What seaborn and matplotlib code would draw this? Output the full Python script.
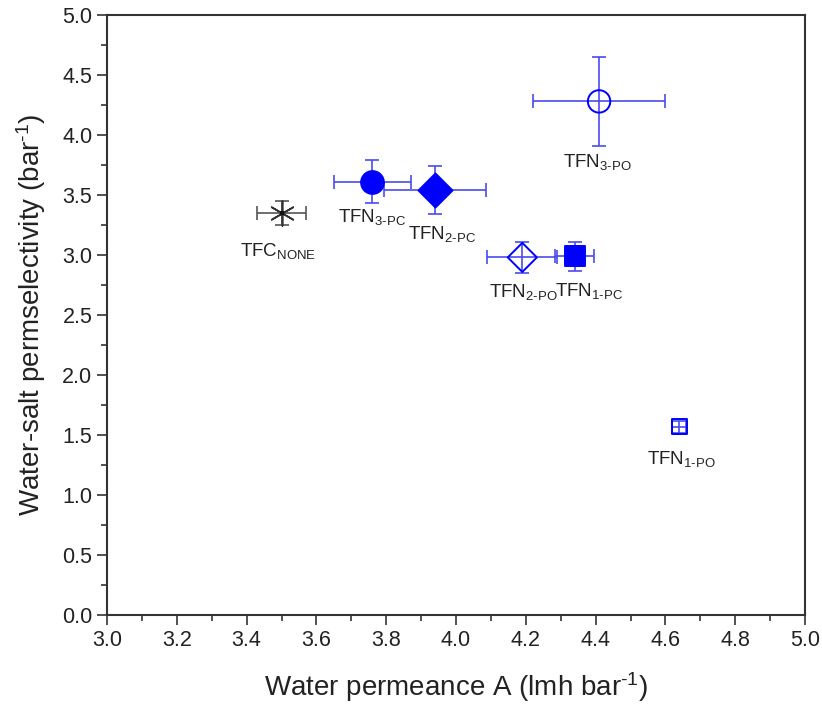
import matplotlib
matplotlib.use("Agg")
import matplotlib.pyplot as plt
import seaborn as sns
import pandas as pd

# ---- data ----
samples = ["TFC_NONE", "TFN3-PC", "TFN2-PC", "TFN2-PO", "TFN1-PC", "TFN3-PO", "TFN1-PO"]
labels = [r"TFC$_{\text{NONE}}$", r"TFN$_{\text{3-PC}}$", r"TFN$_{\text{2-PC}}$",
          r"TFN$_{\text{2-PO}}$", r"TFN$_{\text{1-PC}}$", r"TFN$_{\text{3-PO}}$",
          r"TFN$_{\text{1-PO}}$"]
permeance = [3.50, 3.76, 3.94, 4.19, 4.34, 4.41, 4.64]
permeance_err = [0.07, 0.11, 0.145, 0.10, 0.055, 0.19, 0.02]
selectivity = [3.35, 3.61, 3.54, 2.98, 2.99, 4.28, 1.57]
selectivity_err = [0.10, 0.18, 0.20, 0.13, 0.12, 0.37, 0.05]

df = pd.DataFrame({"sample": samples, "A": permeance, "A_err": permeance_err,
                   "S": selectivity, "S_err": selectivity_err, "label": labels})

# ---- styles ----
markers = ["$*$", "o", "D", "D", "s", "o", "s"]
sizes = [0, 270, 300, 220, 190, 260, 120]
filled = [True, True, True, False, True, False, False]
colors = ["#333333"] + ["#0000ff"] * 6
err_colors = ["#555555"] + ["#4a4aee"] * 6
label_offsets = [(-3, -43), (0, -40), (7, -49), (1, -40), (14, -40), (-2, -66), (2, -37)]

sns.set_theme(style="ticks")
plt.rcParams["font.family"] = ["Liberation Sans", "DejaVu Sans"]
plt.rcParams["mathtext.fontset"] = "custom"
plt.rcParams["mathtext.rm"] = "Liberation Sans"
plt.rcParams["mathtext.it"] = "Liberation Sans:italic"
plt.rcParams["mathtext.bf"] = "Liberation Sans:bold"

fig = plt.figure(figsize=(8.22, 7.17), dpi=100)
ax = fig.add_axes([107 / 822, 1 - 615 / 717, (805 - 107) / 822, (615 - 15) / 717])

for i, row in df.iterrows():
    ax.errorbar(row["A"], row["S"], xerr=row["A_err"], yerr=row["S_err"], fmt="none",
                ecolor=err_colors[i], elinewidth=1.2, capsize=5, capthick=1.2, zorder=2)

for i, row in df.iterrows():
    sub = df.iloc[[i]]
    if i == 0:
        sns.scatterplot(data=sub, x="A", y="S", marker=(6, 2, 0), s=320, color="#333333",
                        linewidth=1.2, edgecolor="#333333", ax=ax, zorder=3, legend=False)
        sns.scatterplot(data=sub, x="A", y="S", marker="s", s=12, color="#111111",
                        linewidth=0, ax=ax, zorder=4, legend=False)
    else:
        fc = colors[i] if filled[i] else "none"
        sns.scatterplot(data=sub, x="A", y="S", marker=markers[i], s=sizes[i],
                        facecolor=fc, edgecolor=colors[i], linewidth=1.4,
                        ax=ax, zorder=3, legend=False)
    ax.annotate(row["label"], (row["A"], row["S"]), xytext=label_offsets[i],
                textcoords="offset pixels", ha="center", va="baseline",
                fontsize=13.5, color="#222222")

ax.set_xlim(3.0, 5.0)
ax.set_ylim(0.0, 5.0)
ax.set_xticks([3.0, 3.2, 3.4, 3.6, 3.8, 4.0, 4.2, 4.4, 4.6, 4.8, 5.0])
ax.set_xticks([3.1 + 0.2 * k for k in range(10)], minor=True)
ax.set_yticks([0.5 * k for k in range(11)])
ax.set_yticks([0.25 + 0.5 * k for k in range(10)], minor=True)
ax.xaxis.set_major_formatter(matplotlib.ticker.FormatStrFormatter("%.1f"))
ax.yaxis.set_major_formatter(matplotlib.ticker.FormatStrFormatter("%.1f"))
ax.tick_params(which="major", direction="out", length=7, width=1.2, labelsize=15.5,
               colors="#333333", labelcolor="#222222", top=False, right=False)
ax.tick_params(which="minor", direction="out", length=4, width=1.2, colors="#333333",
               top=False, right=False)
for sp in ax.spines.values():
    sp.set_linewidth(1.5)
    sp.set_color("#333333")
    sp.set_visible(True)

ax.set_xlabel(r"Water permeance A (lmh bar$^{\text{-1}}$)", fontsize=20, color="#222222", labelpad=14)
ax.set_ylabel(r"Water-salt permselectivity (bar$^{\text{-1}}$)", fontsize=20, color="#222222", labelpad=10)

fig.savefig("out.png", dpi=100)
